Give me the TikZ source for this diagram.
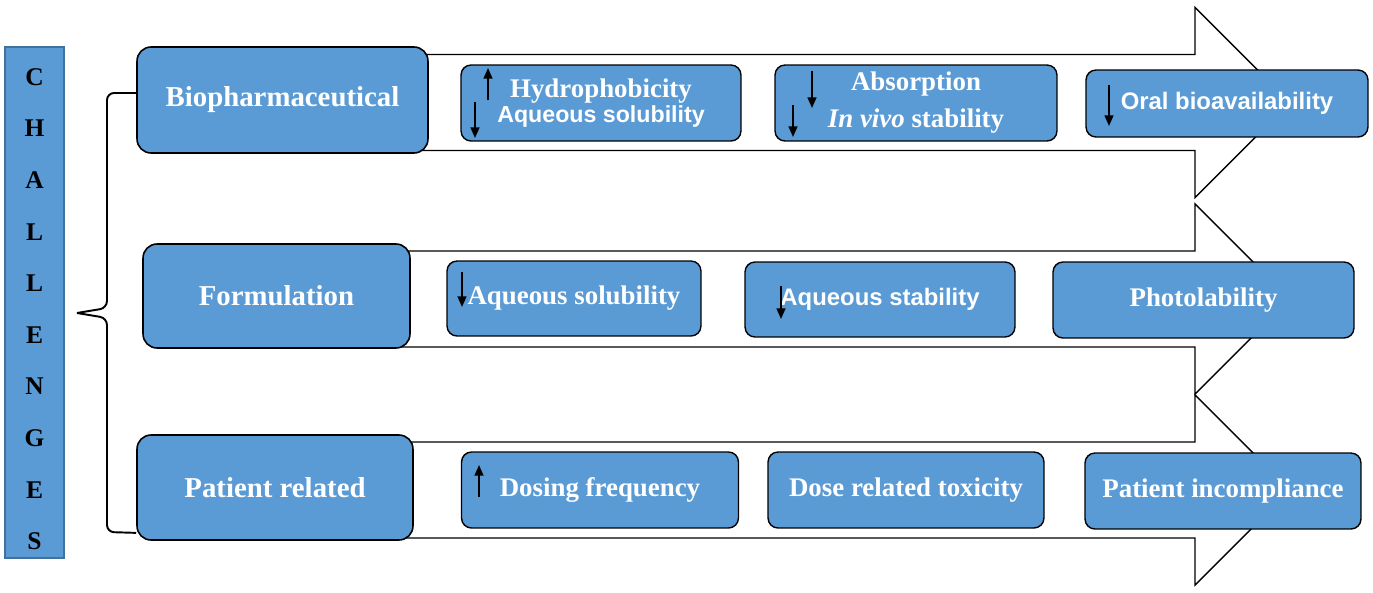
\documentclass[tikz,border=0pt]{standalone}
\usepackage{fontspec}
\setmainfont{Liberation Serif}
\newfontfamily\arialfont{Liberation Sans}
\usetikzlibrary{arrows.meta}
\definecolor{boxblue}{HTML}{5B9BD5}
\definecolor{edgeblue}{HTML}{41719C}

\begin{document}
\begin{tikzpicture}[x=0.02cm, y=-0.02cm,
    every node/.style={inner sep=0pt},
    bigbox/.style={draw=black, line width=0.9pt, fill=boxblue, rounded corners=0.28cm,
      text=white, font=\fontsize{16.4}{18}\selectfont\bfseries},
    smallbox/.style={draw=black, line width=0.8pt, fill=boxblue, rounded corners=0.2cm,
      minimum height=1.52cm, text=white, align=center, font=\fontsize{15.3}{17}\selectfont\bfseries},
    sans/.style={font=\fontsize{13.6}{15}\selectfont\arialfont\bfseries},
    bigarrow/.style={draw=black, line width=0.8pt, fill=white, line join=miter},
    trend/.style={line width=1pt, -{Triangle[width=5pt,length=6pt]}},
    curly/.style={line width=1.1pt, rounded corners=4pt},
    letter/.style={font=\fontsize{14.5}{16}\selectfont\bfseries}]
  \useasboundingbox (0,0) rectangle (1373,592);

  \node[draw=edgeblue, line width=0.9pt, fill=boxblue, minimum width=1.18cm, minimum height=10.22cm] (chal) at (34.5,302.5) {};
  \begin{scope}
    \clip (5,47) rectangle (64,549);
    \foreach \l [count=\i from 0] in {C,H,A,L,L,E,N,G,E,S}
      \node[letter] (ch\i) at (34.5,{77+51.6*\i}) {\l};
  \end{scope}

  \foreach \cy/\lx in {102.5/420,299/400,490/405}
    \draw[bigarrow] (\lx,\cy-48) -- (1195,\cy-48) -- (1195,\cy-95) -- (1290,\cy)
      -- (1195,\cy+95) -- (1195,\cy+48) -- (\lx,\cy+48);

  \node[bigbox, minimum width=5.82cm, minimum height=2.12cm] (bio) at (282.5,100) {Biopharmaceutical};
  \node[bigbox, minimum width=5.34cm, minimum height=2.08cm] (form) at (276.5,296) {Formulation};
  \node[bigbox, minimum width=5.52cm, minimum height=2.1cm] (pat) at (275,487.5) {Patient related};

  \node[smallbox, minimum width=5.6cm] (hydro) at (601,103)
    {Hydrophobicity\\[-3pt]{\arialfont\fontsize{13.2}{15}\selectfont Aqueous solubility}};
  \node[smallbox, minimum width=5.64cm] (absorp) at (916,103)
    {Absorption\\[4pt]{\itshape In vivo} stability};
  \node[smallbox, sans, minimum width=5.64cm, minimum height=1.34cm] (oral) at (1227,103.5) {Oral bioavailability};

  \node[smallbox, minimum width=5.08cm, minimum height=1.5cm] (aqsol) at (574,298.5) {Aqueous solubility};
  \node[smallbox, sans, minimum width=5.4cm, minimum height=1.5cm] (aqstab) at (880,299.5) {Aqueous stability};
  \node[smallbox, minimum width=6.02cm] (photo) at (1203.5,300) {Photolability};

  \node[smallbox, minimum width=5.54cm] (dosing) at (600,490) {Dosing frequency};
  \node[smallbox, minimum width=5.52cm] (tox) at (906,490) {Dose related toxicity};
  \node[smallbox, minimum width=5.52cm] (incomp) at (1223,491) {Patient incompliance};

  \draw[trend] (488,100) -- (488,68);
  \draw[trend] (475,102) -- (475,138);
  \draw[trend] (812,71) -- (812,108);
  \draw[trend] (793,105) -- (793,137);
  \draw[trend] (1109,85) -- (1109,126);
  \draw[trend] (462,272) -- (462,307);
  \draw[trend] (781,286) -- (781,319);
  \draw[trend] (479,497) -- (479,465);

  \coordinate (btop) at ([yshift=4pt]bio.west);
  \coordinate (bbot) at ([yshift=4.5pt]pat.south west);
  \coordinate (btip) at (77,313);
  \draw[curly] (btop) -- (107,93) -- (107,308) -- (btip);
  \draw[curly] (btip) -- (107,318) -- (107,532) -- (bbot);
\end{tikzpicture}
\end{document}
